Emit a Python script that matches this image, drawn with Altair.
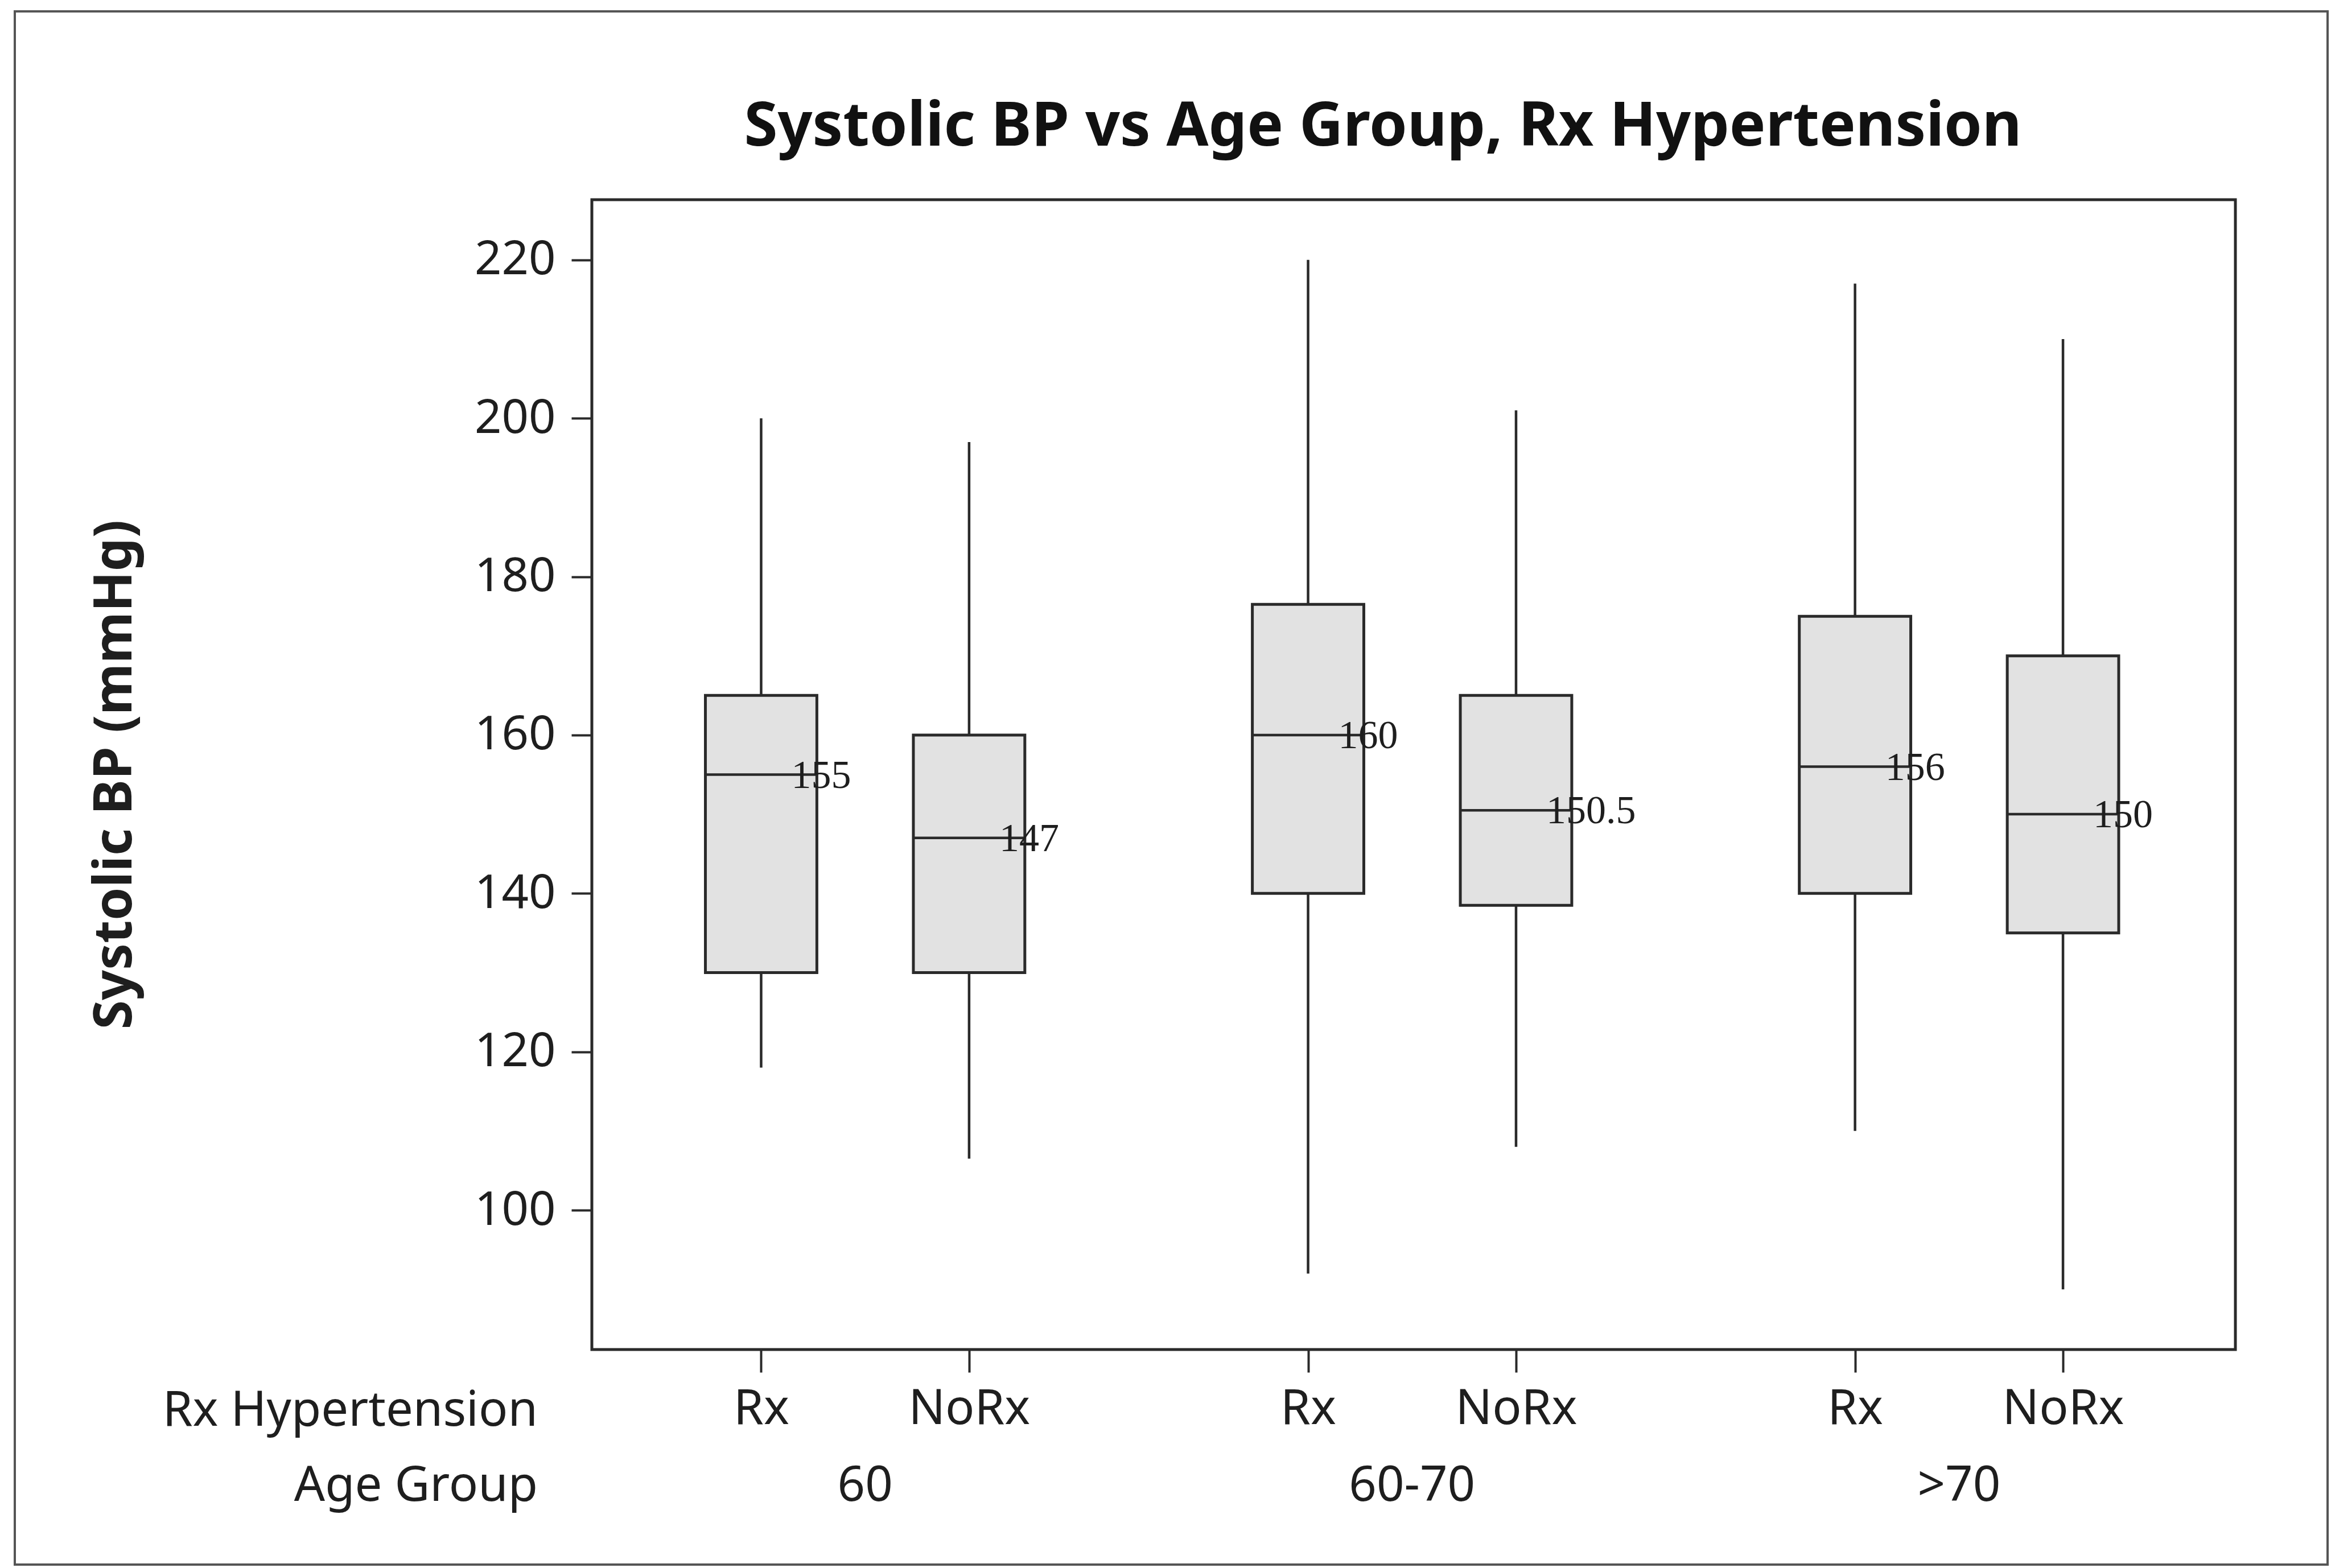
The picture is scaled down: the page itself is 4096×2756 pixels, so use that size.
import altair as alt
import pandas as pd

# Box-plot summary of systolic blood pressure by age group and treatment
age_groups = ["60", "60-70", ">70"]
rx_levels = ["Rx", "NoRx"]

whisker_low = [118, 106.5, 92, 108, 110, 90]
q1 = [130, 130, 140, 138.5, 140, 135]
median = [155, 147, 160, 150.5, 156, 150]
q3 = [165, 160, 176.5, 165, 175, 170]
whisker_high = [200, 197, 220, 201, 217, 210]

y_ticks = [100, 120, 140, 160, 180, 200, 220]

chart_title = "Systolic BP vs Age Group, Rx Hypertension"

# Layout: boxes one unit apart inside an age group, wider gap between groups
GROUP_STEP = 2.63
BOX_HALF = 0.268
X_DOMAIN = [-0.814, 7.089]
Y_DOMAIN = [82.4, 227.6]
W, H = 2888, 2021

LINE = "#2a2a2a"
BOX_FILL = "#e2e2e2"
TEXT = "#1e1e1e"
SANS = "Noto Sans"
LABEL_SIZE = 85

rows = []
for g, age in enumerate(age_groups):
    for r, rx in enumerate(rx_levels):
        i = g * 2 + r
        pos = g * GROUP_STEP + r
        rows.append(dict(age=age, rx=rx, pos=pos,
                         left=pos - BOX_HALF, right=pos + BOX_HALF,
                         lo=whisker_low[i], q1=q1[i], med=median[i],
                         q3=q3[i], hi=whisker_high[i],
                         label=f"{median[i]:g}"))
df = pd.DataFrame(rows)

groups = df.groupby("age", sort=False)["pos"].mean().reset_index()
groups.columns = ["age", "center"]

positions = list(df["pos"])
label_expr = "".join(
    f"abs(datum.value - ({p})) < 0.01 ? '{rx}' : " for p, rx in zip(df["pos"], df["rx"])
) + "''"

x_scale = alt.Scale(domain=X_DOMAIN, nice=False, zero=False)
y_scale = alt.Scale(domain=Y_DOMAIN, nice=False, zero=False)

x_axis = alt.Axis(values=positions, labelExpr=label_expr, title="",
                  labelFont=SANS, labelFontSize=LABEL_SIZE, labelColor=TEXT,
                  labelPadding=23, labelLimit=2000,
                  tickSize=40, tickWidth=4, tickColor=LINE,
                  domain=False, grid=False, labelFlush=False, labelOverlap=False)
y_axis = alt.Axis(values=y_ticks, title="Systolic BP (mmHg)",
                  labelFont=SANS, labelFontSize=83, labelColor=TEXT,
                  labelPadding=28, labelLimit=2000,
                  tickSize=36, tickWidth=4, tickColor=LINE,
                  domain=False, grid=False,
                  titleFont=SANS, titleFontSize=93, titleFontWeight="bold",
                  titleColor=TEXT, titleAngle=270, titleX=-810, titleY=1010,
                  titleAlign="center", titleBaseline="alphabetic")

base = alt.Chart(df)

whisker_top = base.mark_rule(color=LINE, strokeWidth=4.5).encode(
    x=alt.X("pos:Q", scale=x_scale, axis=x_axis),
    y=alt.Y("q3:Q", scale=y_scale, axis=y_axis),
    y2="hi:Q",
)
whisker_bottom = base.mark_rule(color=LINE, strokeWidth=4.5).encode(
    x="pos:Q", y="lo:Q", y2="q1:Q"
)
boxes = base.mark_bar(fill=BOX_FILL, stroke=LINE, strokeWidth=5).encode(
    x="left:Q", x2="right:Q", y="q1:Q", y2="q3:Q"
)
medians = base.mark_rule(color=LINE, strokeWidth=4.5).encode(
    x="left:Q", x2="right:Q", y="med:Q"
)
median_labels = base.mark_text(
    align="left", baseline="middle", dx=53, dy=2,
    font="Liberation Serif", fontSize=70, color=TEXT
).encode(x="pos:Q", y="med:Q", text="label:N")

age_labels = alt.Chart(groups).mark_text(
    align="center", baseline="alphabetic", font=SANS, fontSize=LABEL_SIZE, color=TEXT
).encode(x="center:Q", y=alt.value(2287), text="age:N")

one = alt.Data(values=[{}])
rx_header = alt.Chart(one).mark_text(
    text="Rx Hypertension", align="right", baseline="alphabetic",
    font=SANS, fontSize=LABEL_SIZE, color=TEXT
).encode(x=alt.value(-95), y=alt.value(2155))
age_header = alt.Chart(one).mark_text(
    text="Age Group", align="right", baseline="alphabetic",
    font=SANS, fontSize=LABEL_SIZE, color=TEXT
).encode(x=alt.value(-95), y=alt.value(2287))

title_text = alt.Chart(one).mark_text(
    text=chart_title, align="center", baseline="alphabetic",
    font=SANS, fontSize=107, fontWeight="bold", color="#111111"
).encode(x=alt.value(1390), y=alt.value(-95))

outer_frame = alt.Chart(one).mark_rect(
    filled=False, stroke="#555555", strokeWidth=4
).encode(x=alt.value(-1014), x2=alt.value(3050),
         y=alt.value(-331), y2=alt.value(2399))

chart = alt.layer(
    outer_frame, whisker_top, whisker_bottom, boxes, medians, median_labels,
    age_labels, rx_header, age_header, title_text
).properties(
    width=W, height=H,
    padding={"left": 1040, "top": 351, "right": 168, "bottom": 384},
    autosize=alt.AutoSizeParams(type="none"),
    background="white",
).configure_view(stroke=LINE, strokeWidth=5)

chart.save("out.html", embed_options={"renderer": "svg", "actions": False})
